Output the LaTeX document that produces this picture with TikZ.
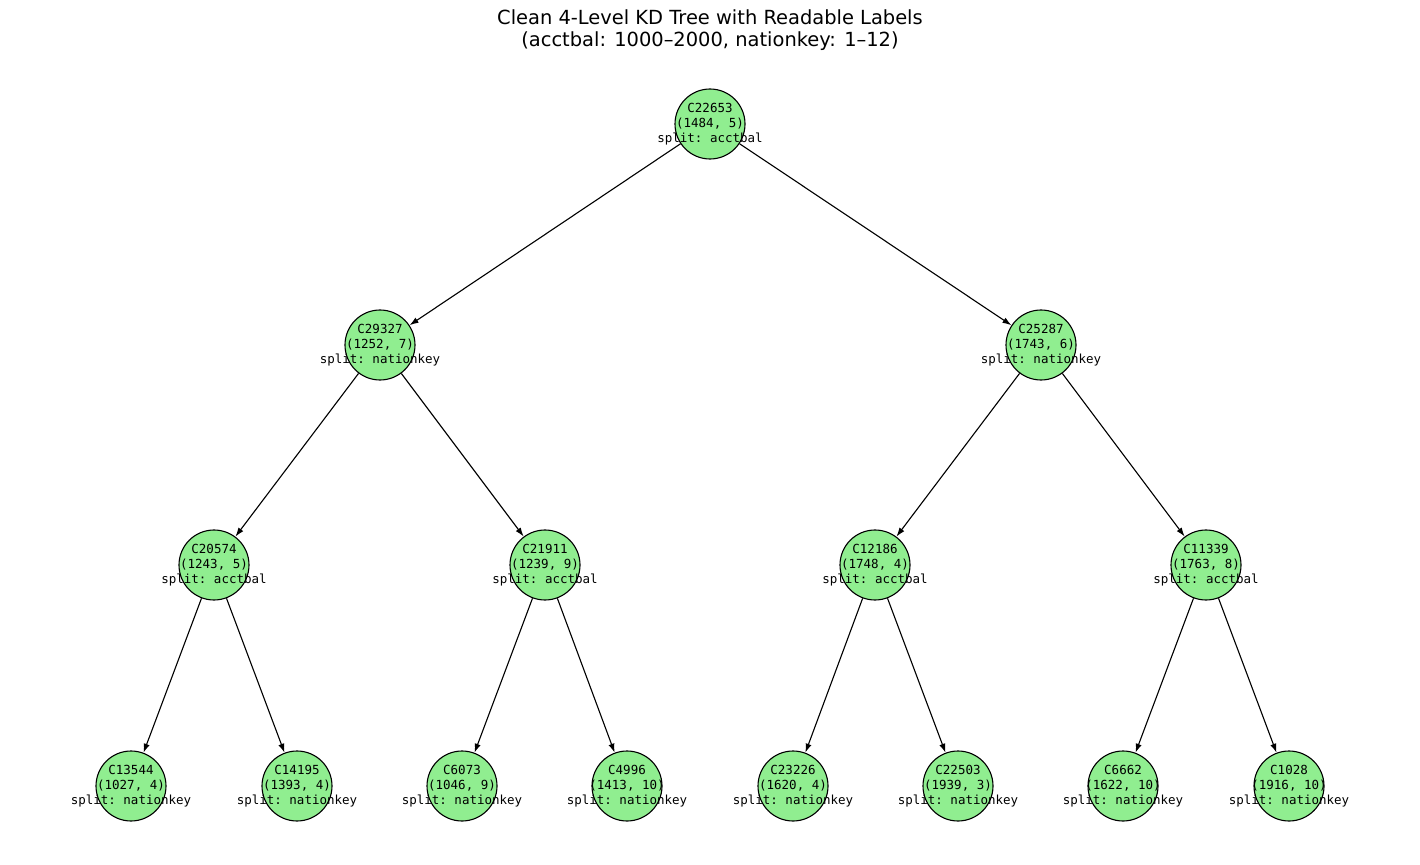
\documentclass[tikz,border=0pt]{standalone}
\usepackage{fontspec}
\setmainfont{DejaVu Sans}
\setmonofont{DejaVu Sans Mono}
\usetikzlibrary{arrows.meta}
\definecolor{kdgreen}{HTML}{90EE90}
\tikzset{%
  kdnode/.style={circle,draw=black,line width=0.8pt,fill=kdgreen,
                 minimum size=50.4pt,inner sep=0pt},
  kdtext/.style={align=center,inner sep=0pt,
                 font=\fontsize{9}{10.8}\selectfont\ttfamily},
  kdedge/.style={-{Latex[length=6.5pt,width=4.4pt]},line width=0.8pt},
}

\begin{document}
\begin{tikzpicture}[x=0.72pt,y=-0.72pt]
              \useasboundingbox (0,0) rectangle (1420,865);
              % title
              \node[align=center,font=\fontsize{14}{16}\selectfont] (title) at (710,30)
                {Clean 4-Level KD Tree with Readable Labels\\(acctbal: 1000–2000, nationkey: 1–12)};
              % circles
              \node[kdnode] (r) at (710,124) {};
              \node[kdnode] (l) at (380,345) {};
              \node[kdnode] (r2) at (1041,345) {};
              \node[kdnode] (ll) at (214,565) {};
              \node[kdnode] (lr) at (545,565) {};
              \node[kdnode] (rl) at (875,565) {};
              \node[kdnode] (rr) at (1206,565) {};
              \node[kdnode] (lll) at (131,786) {};
              \node[kdnode] (llr) at (297,786) {};
              \node[kdnode] (lrl) at (462,786) {};
              \node[kdnode] (lrr) at (627,786) {};
              \node[kdnode] (rll) at (793,786) {};
              \node[kdnode] (rlr) at (958,786) {};
              \node[kdnode] (rrl) at (1123,786) {};
              \node[kdnode] (rrr) at (1289,786) {};
              % edges
              \draw[kdedge] (r) -- (l);
              \draw[kdedge] (r) -- (r2);
              \draw[kdedge] (l) -- (ll);
              \draw[kdedge] (l) -- (lr);
              \draw[kdedge] (r2) -- (rl);
              \draw[kdedge] (r2) -- (rr);
              \draw[kdedge] (ll) -- (lll);
              \draw[kdedge] (ll) -- (llr);
              \draw[kdedge] (lr) -- (lrl);
              \draw[kdedge] (lr) -- (lrr);
              \draw[kdedge] (rl) -- (rll);
              \draw[kdedge] (rl) -- (rlr);
              \draw[kdedge] (rr) -- (rrl);
              \draw[kdedge] (rr) -- (rrr);
              % labels
              \node[kdtext] (rt) at (r) {C22653\\(1484, 5)\\split: acctbal};
              \node[kdtext] (lt) at (l) {C29327\\(1252, 7)\\split: nationkey};
              \node[kdtext] (r2t) at (r2) {C25287\\(1743, 6)\\split: nationkey};
              \node[kdtext] (llt) at (ll) {C20574\\(1243, 5)\\split: acctbal};
              \node[kdtext] (lrt) at (lr) {C21911\\(1239, 9)\\split: acctbal};
              \node[kdtext] (rlt) at (rl) {C12186\\(1748, 4)\\split: acctbal};
              \node[kdtext] (rrt) at (rr) {C11339\\(1763, 8)\\split: acctbal};
              \node[kdtext] (lllt) at (lll) {C13544\\(1027, 4)\\split: nationkey};
              \node[kdtext] (llrt) at (llr) {C14195\\(1393, 4)\\split: nationkey};
              \node[kdtext] (lrlt) at (lrl) {C6073\\(1046, 9)\\split: nationkey};
              \node[kdtext] (lrrt) at (lrr) {C4996\\(1413, 10)\\split: nationkey};
              \node[kdtext] (rllt) at (rll) {C23226\\(1620, 4)\\split: nationkey};
              \node[kdtext] (rlrt) at (rlr) {C22503\\(1939, 3)\\split: nationkey};
              \node[kdtext] (rrlt) at (rrl) {C6662\\(1622, 10)\\split: nationkey};
              \node[kdtext] (rrrt) at (rrr) {C1028\\(1916, 10)\\split: nationkey};
          \end{tikzpicture}
\end{document}
